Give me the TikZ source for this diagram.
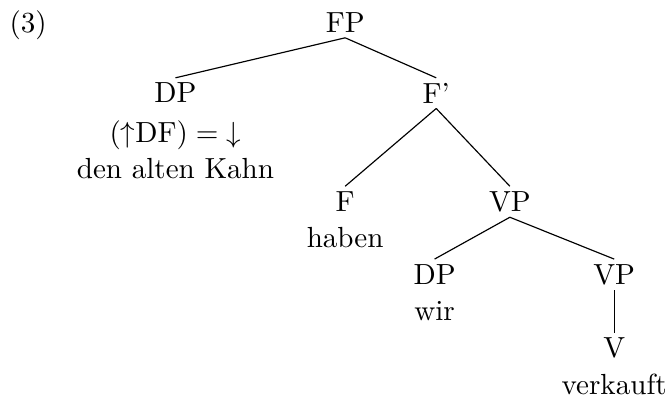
\documentclass[tikz,border=0pt]{standalone}
\usepackage{amsmath}
\usepackage{amssymb}
\usepackage{tikz}

\begin{document}
\begin{tikzpicture}[scale=1,
    cat/.style={inner sep=1.6pt, align=center, anchor=north, font=\fontsize{10}{12.5}\selectfont}]
    \useasboundingbox (0,0) rectangle (8.07,-4.78);
    \node[cat, anchor=base] (ex) at (0.34,-0.39) {(3)};
    \node[cat] (FP) at (4.17,-0.09) {FP};
    \node[cat] (DP1) at (2.12,-0.94) {DP\\[1pt]$({\uparrow}\mathrm{DF}) = {\downarrow}$\\den alten Kahn};
    \node[cat] (Fbar) at (5.27,-0.94) {F'};
    \node[cat] (F) at (4.17,-2.25) {F\\haben};
    \node[cat] (VP1) at (6.16,-2.25) {VP};
    \node[cat] (DP2) at (5.25,-3.13) {DP\\wir};
    \node[cat] (VP2) at (7.42,-3.13) {VP};
    \node[cat] (V) at (7.42,-4.02) {V\\verkauft};
    \draw (FP.south) -- (DP1.north);
    \draw (FP.south) -- (Fbar.north);
    \draw (Fbar.south) -- (F.north);
    \draw (Fbar.south) -- (VP1.north);
    \draw (VP1.south) -- (DP2.north);
    \draw (VP1.south) -- (VP2.north);
    \draw (VP2.south) -- (V.north);
\end{tikzpicture}
\end{document}
